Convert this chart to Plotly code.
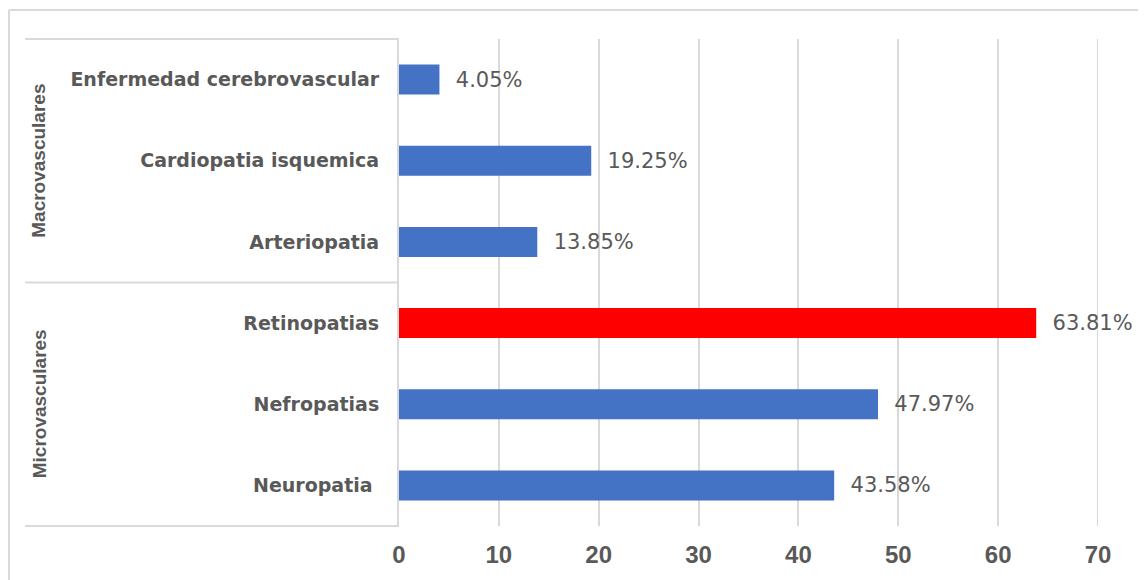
import plotly.graph_objects as go

# ---- data ----
categories = ["Neuropatia\u00a0", "Nefropatias", "Retinopatias",
              "Arteriopatia", "Cardiopatia isquemica", "Enfermedad cerebrovascular"]
values = [43.58, 47.97, 63.81, 13.85, 19.25, 4.05]
bar_colors = ["#4472C4", "#4472C4", "#FF0000", "#4472C4", "#4472C4", "#4472C4"]
groups = ["Microvasculares", "Macrovasculares"]
x_ticks = [0, 10, 20, 30, 40, 50, 60, 70]

# ---- layout geometry (pixels, page has an 8px body margin) ----
OFF = 8
W, H = 1146 - OFF, 580 - OFF
L, R, T, B = 399 - OFF, 48, 39 - OFF, 52
PW, PH = W - L - R, H - T - B


def px_x(p):
    return (p - OFF - L) / PW


def px_y(p):
    return (H - B - (p - OFF)) / PH


GRID = "#d9d9d9"
TXT = "#595959"

fig = go.Figure(go.Bar(
    y=categories, x=values, orientation="h",
    marker=dict(color=bar_colors, line=dict(width=0)),
    width=0.37,
    texttemplate="\u00a0\u00a0%{x:.2f}%",
    textposition="outside",
    constraintext="none",
    cliponaxis=False,
    textfont=dict(family="DejaVu Sans", size=21, color=TXT),
))

shapes = []
for yp in [39, (39 + 528) / 2, 528]:
    shapes.append(dict(type="line", xref="paper", yref="paper",
                       x0=px_x(25), x1=px_x(399), y0=px_y(yp), y1=px_y(yp),
                       line=dict(color=GRID, width=2)))
shapes.append(dict(type="line", xref="paper", yref="paper",
                   x0=px_x(9), x1=px_x(1160), y0=px_y(10), y1=px_y(10),
                   line=dict(color=GRID, width=2)))
shapes.append(dict(type="line", xref="paper", yref="paper",
                   x0=px_x(9), x1=px_x(9), y0=px_y(10), y1=px_y(600),
                   line=dict(color=GRID, width=2)))
# gridline at the last tick (plotly drops gridlines at the range end)
shapes.append(dict(type="line", xref="x", yref="paper", layer="below",
                   x0=x_ticks[-1], x1=x_ticks[-1], y0=0, y1=1,
                   line=dict(color=GRID, width=2)))

annotations = []
for g, yc in zip(groups, [0.25, 0.75]):
    annotations.append(dict(text=g, xref="paper", yref="paper",
                            x=px_x(39), y=yc, textangle=-90, showarrow=False,
                            xanchor="center", yanchor="middle",
                            font=dict(family="Liberation Sans", size=19,
                                      color=TXT, weight="bold")))

fig.update_layout(
    width=W, height=H,
    margin=dict(l=L, r=R, t=T, b=B, pad=0),
    paper_bgcolor="white", plot_bgcolor="white",
    showlegend=False,
    shapes=shapes,
    annotations=annotations,
    xaxis=dict(range=[0, 70], tickvals=x_ticks, showgrid=True, gridcolor=GRID,
               gridwidth=2, zeroline=False, showline=False,
               ticks="", ticklabelstandoff=12,
               tickfont=dict(family="Liberation Sans", size=24, color=TXT,
                             weight="bold"),
               fixedrange=True),
    yaxis=dict(categoryorder="array", categoryarray=categories,
               showgrid=False, zeroline=False, showline=True,
               linecolor=GRID, linewidth=2, ticks="", ticklabelstandoff=14,
               tickfont=dict(family="DejaVu Sans", size=19, color=TXT,
                             weight="bold"),
               fixedrange=True),
)

fig.write_html("out.html")
